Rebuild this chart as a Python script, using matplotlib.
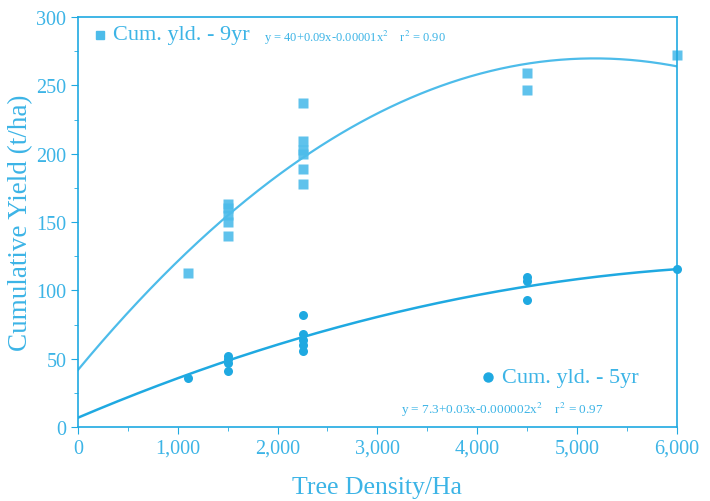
import matplotlib
matplotlib.use("Agg")
import matplotlib.pyplot as plt
import numpy as np
from matplotlib.ticker import MultipleLocator, FuncFormatter

# Cumulative yield, 9 years (squares)
x_9yr = [1100, 1500, 1500, 1500, 1500, 1500, 2250, 2250, 2250, 2250, 2250, 2250, 4500, 4500, 6000]
y_9yr = [113, 163, 160, 155, 150, 140, 237, 209, 203, 200, 189, 178, 259, 247, 272]

# Cumulative yield, 5 years (circles)
x_5yr = [1100, 1500, 1500, 1500, 1500, 2250, 2250, 2250, 2250, 2250, 4500, 4500, 4500, 6000]
y_5yr = [36, 52, 50, 47, 41, 82, 68, 64, 60, 56, 110, 107, 93, 116]

# quadratic fit coefficients (a, b, c) for y = a + b*x - c*x^2
fit_9yr = (42.0, 0.088, 8.5e-6)
fit_5yr = (7.0, 0.031, 2.15e-6)

label_9yr = "Cum. yld. - 9yr"
label_5yr = "Cum. yld. - 5yr"
eq_9yr = "y = 40+0.09x-0.00001x$^2$    r$^2$ = 0.90"
eq_5yr = "y = 7.3+0.03x-0.000002x$^2$    r$^2$ = 0.97"

BLUE = "#1fa9e1"
LIGHT = "#4dbcea"
TXT = "#3cb4e6"

plt.rcParams["font.family"] = ["Liberation Serif", "DejaVu Serif"]
plt.rcParams["mathtext.fontset"] = "stix"

fig = plt.figure(figsize=(7.1, 5.02), dpi=100)
ax = fig.add_axes([0.110, 0.147, 0.843, 0.817])

xs = np.linspace(0, 6000, 300)
a, b, c = fit_9yr
ax.plot(xs, a + b * xs - c * xs ** 2, color=LIGHT, lw=1.6)
a, b, c = fit_5yr
ax.plot(xs, a + b * xs - c * xs ** 2, color=BLUE, lw=1.8)

ax.plot(x_9yr, y_9yr, "s", color=LIGHT, ms=7, mec="none", alpha=0.9, clip_on=False)
ax.plot(x_5yr, y_5yr, "o", color=BLUE, ms=6.5, mec="none", clip_on=False)

ax.set_xlim(0, 6000)
ax.set_ylim(0, 300)
ax.xaxis.set_major_locator(MultipleLocator(1000))
ax.xaxis.set_minor_locator(MultipleLocator(500))
ax.yaxis.set_major_locator(MultipleLocator(50))
ax.yaxis.set_minor_locator(MultipleLocator(25))
ax.xaxis.set_major_formatter(FuncFormatter(lambda v, p: f"{int(v):,}"))

for s in ax.spines.values():
    s.set_color(BLUE)
    s.set_linewidth(1.2)
ax.tick_params(which="both", colors=BLUE, labelcolor=TXT, labelsize=14.5, direction="out")
ax.tick_params(which="major", length=5)
ax.tick_params(which="minor", length=3)

ax.set_xlabel("Tree Density/Ha", color=TXT, fontsize=18.5, labelpad=13)
ax.set_ylabel("Cumulative Yield (t/ha)", color=TXT, fontsize=19.5, labelpad=2)

# legend-like annotations
ax.plot([0.036], [0.957], "s", color=LIGHT, ms=6, transform=ax.transAxes, clip_on=False)
ax.text(0.058, 0.957, label_9yr, color=TXT, fontsize=16, transform=ax.transAxes, va="center")
ax.text(0.31, 0.952, eq_9yr, color=TXT, fontsize=9, transform=ax.transAxes, va="center")

ax.plot([0.685], [0.122], "o", color=BLUE, ms=6.5, transform=ax.transAxes, clip_on=False)
ax.text(0.708, 0.122, label_5yr, color=TXT, fontsize=16, transform=ax.transAxes, va="center")
ax.text(0.54, 0.044, eq_5yr, color=TXT, fontsize=9.5, transform=ax.transAxes, va="center")

fig.savefig("out.png", dpi=100)
